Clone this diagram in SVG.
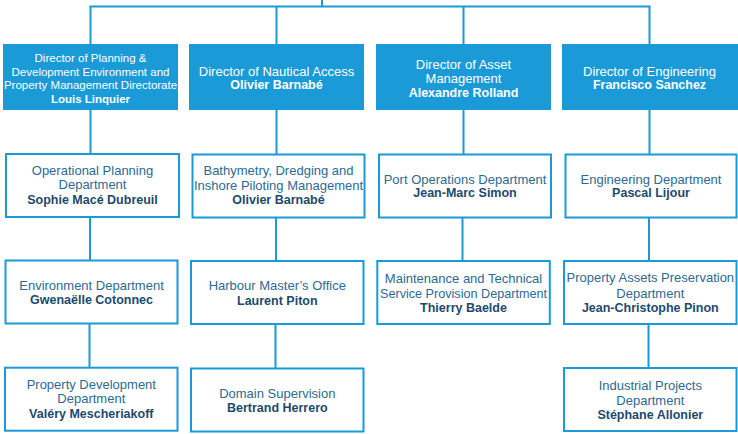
<svg xmlns="http://www.w3.org/2000/svg" width="738" height="434" viewBox="0 0 738 434">
<style>
text{font-family:"Liberation Sans",Arial,sans-serif;font-size:13px;text-anchor:middle}
.b{font-weight:bold;font-size:12.5px}
.s{font-size:11.5px}
.dir rect{fill:#1a9ad7}
.dir text{fill:#ffffff}
.dept rect{fill:#ffffff;stroke:#1a9ad7;stroke-width:2}
.dept text{fill:#2d6a93}
.dept text.b{fill:#1d4a6e}
#connectors path{fill:none;stroke:#1a9ad7;stroke-width:2}
</style>
<rect width="738" height="434" fill="#ffffff"/>
<g id="connectors">
<path d="M322 0V6.5M89.5 6.5H650.5"/>
<path d="M90.5 6.5V44M276.5 6.5V44M463.5 6.5V44M649.5 6.5V44"/>
<path d="M90.5 110V154M90 217V260.5M89.5 323.5V368"/>
<path d="M276.5 110V154M276 217V261M275.5 324V369"/>
<path d="M463.5 110V154M462.5 217V261"/>
<path d="M649.5 110V154M649 217V261M648.5 324V368"/>
</g>
<g id="dir1" class="dir"><rect x="3" y="44" width="175" height="66"/>
<text x="90.5" y="62" class="s">Director of Planning &amp;</text>
<text x="90.5" y="75.5" class="s">Development Environment and</text>
<text x="90.5" y="89" class="s">Property Management Directorate</text>
<text x="90.5" y="102.5" class="b s">Louis Linquier</text></g>
<g id="dir2" class="dir"><rect x="189" y="44" width="175" height="66"/>
<text x="276.5" y="75.5">Director of Nautical Access</text>
<text x="276.5" y="89" class="b">Olivier Barnabé</text></g>
<g id="dir3" class="dir"><rect x="376" y="44" width="175" height="66"/>
<text x="463.5" y="69">Director of Asset</text>
<text x="463.5" y="82.5">Management</text>
<text x="463.5" y="97" class="b">Alexandre Rolland</text></g>
<g id="dir4" class="dir"><rect x="562" y="44" width="176" height="66"/>
<text x="649.5" y="75.5">Director of Engineering</text>
<text x="649.5" y="89" class="b">Francisco Sanchez</text></g>

<g id="d11" class="dept"><rect x="6" y="154" width="173" height="63"/>
<text x="92.5" y="175">Operational Planning</text>
<text x="92.5" y="189">Department</text>
<text x="92.5" y="203.5" class="b">Sophie Macé Dubreuil</text></g>
<g id="d21" class="dept"><rect x="192.5" y="154.5" width="172" height="63"/>
<text x="278.5" y="175">Bathymetry, Dredging and</text>
<text x="278.5" y="189.5">Inshore Piloting Management</text>
<text x="278.5" y="204" class="b">Olivier Barnabé</text></g>
<g id="d31" class="dept"><rect x="379" y="154.5" width="172" height="63"/>
<text x="465" y="183.5">Port Operations Department</text>
<text x="465" y="197" class="b">Jean-Marc Simon</text></g>
<g id="d41" class="dept"><rect x="565.5" y="154.5" width="171" height="63"/>
<text x="651" y="183.5">Engineering Department</text>
<text x="651" y="197" class="b">Pascal Lijour</text></g>

<g id="d12" class="dept"><rect x="5.5" y="260.5" width="172" height="63"/>
<text x="91.5" y="289.5">Environment Department</text>
<text x="91.5" y="304" class="b">Gwenaëlle Cotonnec</text></g>
<g id="d22" class="dept"><rect x="191" y="261" width="172.5" height="63"/>
<text x="277.3" y="290">Harbour Master’s Office</text>
<text x="277.3" y="305" class="b">Laurent Piton</text></g>
<g id="d32" class="dept"><rect x="377.3" y="261" width="172.5" height="63"/>
<text x="463.5" y="283">Maintenance and Technical</text>
<text x="463.5" y="297.5" textLength="167" lengthAdjust="spacingAndGlyphs">Service Provision Department</text>
<text x="463.5" y="312" class="b">Thierry Baelde</text></g>
<g id="d42" class="dept"><rect x="564" y="261" width="172.5" height="63"/>
<text x="650.3" y="282">Property Assets Preservation</text>
<text x="650.3" y="297.5">Department</text>
<text x="650.3" y="312" class="b">Jean-Christophe Pinon</text></g>

<g id="d13" class="dept"><rect x="5" y="367.7" width="172.5" height="63"/>
<text x="91.3" y="388.5">Property Development</text>
<text x="91.3" y="403">Department</text>
<text x="91.3" y="417.5" class="b">Valéry Mescheriakoff</text></g>
<g id="d23" class="dept"><rect x="191" y="368.5" width="172.5" height="63"/>
<text x="277.3" y="397.5">Domain Supervision</text>
<text x="277.3" y="412" class="b">Bertrand Herrero</text></g>
<g id="d43" class="dept"><rect x="564" y="368" width="172.5" height="63"/>
<text x="650.3" y="390">Industrial Projects</text>
<text x="650.3" y="404.5">Department</text>
<text x="650.3" y="419" class="b">Stéphane Allonier</text></g>
</svg>
